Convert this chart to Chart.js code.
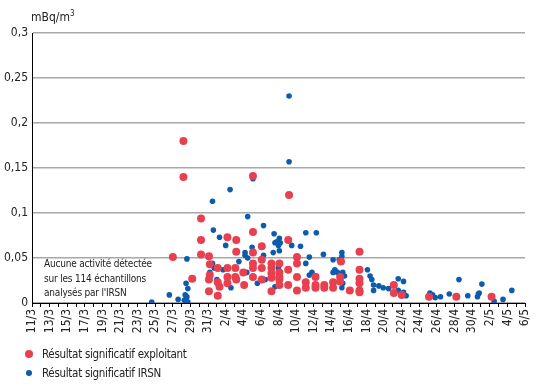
<!DOCTYPE html>
<html>
<head>
<meta charset="utf-8">
<script src="https://cdn.jsdelivr.net/npm/chart.js@4"></script>
<style>
body{margin:0;background:#fff;font-family:'Liberation Sans Narrow','DejaVu Sans Condensed',sans-serif;color:#222}
#wrap{position:relative;width:547px;height:388px}
#unit{position:absolute;left:31px;top:9px;font-size:12px}
#unit sup{font-size:8px}
#note{position:absolute;left:44px;top:257px;font-size:10px;letter-spacing:-0.2px;line-height:14.5px;color:#222}
.leg{position:absolute;left:19px;font-size:11.5px;letter-spacing:-0.3px;display:flex;align-items:center}
.dot{display:inline-block;border-radius:50%;margin-right:9px}
</style>
</head>
<body>
<div id="wrap">
<canvas id="myChart" width="547" height="388"></canvas>
<div id="unit">mBq/m<sup>3</sup></div>
<div id="note">Aucune activité détectée<br>sur les 114 échantillons<br>analysés par l'IRSN</div>
<div class="leg" style="top:347px"><span class="dot" style="width:8px;height:8px;background:#e8404f;margin-left:6px"></span>Résultat significatif exploitant</div>
<div class="leg" style="top:366px"><span class="dot" style="width:6px;height:6px;background:#0b5cad;margin-left:7px;margin-right:10px"></span>Résultat significatif IRSN</div>
</div>
<script>
const ctx = document.getElementById('myChart')

// x = jours depuis le 11/3, y = mBq/m3
const dateLabels = ['11/3','13/3','15/3','17/3','19/3','21/3','23/3','25/3','27/3','29/3','31/3','2/4','4/4','6/4','8/4','10/4','12/4','14/4','16/4','18/4','20/4','22/4','24/4','26/4','28/4','30/4','2/5','4/5','6/5']

const exploitant = [
  [16.0,0.051],[17.2,0.180],[17.2,0.140],[18.2,0.027],[19.2,0.094],[19.2,0.070],[19.2,0.054],
  [20.1,0.052],[20.2,0.043],[20.2,0.031],[20.1,0.026],[20.1,0.013],
  [21.1,0.039],[21.1,0.023],[21.3,0.018],[21.1,0.008],
  [22.2,0.073],[22.2,0.039],[22.2,0.029],[22.2,0.022],
  [23.2,0.070],[23.2,0.057],[23.1,0.039],[23.1,0.029],[23.2,0.026],[24.0,0.034],[24.1,0.020],
  [25.1,0.141],[25.1,0.079],[25.1,0.056],[25.1,0.044],[25.1,0.039],[25.1,0.029],
  [26.1,0.063],[26.1,0.048],[26.1,0.039],[26.1,0.026],
  [27.2,0.044],[27.2,0.039],[27.2,0.033],[27.2,0.028],[27.2,0.013],
  [28.1,0.044],[28.1,0.034],[28.1,0.029],[28.1,0.026],[28.1,0.020],
  [29.2,0.120],[29.1,0.070],[29.1,0.037],[29.1,0.020],
  [30.1,0.051],[30.1,0.044],[30.1,0.029],[30.1,0.014],
  [31.1,0.023],[31.1,0.017],[32.2,0.029],[32.2,0.020],[32.2,0.017],
  [33.2,0.020],[33.2,0.017],[34.2,0.023],[34.2,0.017],
  [35.1,0.046],[35.0,0.029],[35.0,0.024],[36.1,0.014],
  [37.2,0.057],[37.2,0.037],[37.2,0.027],[37.2,0.022],[37.2,0.014],[37.2,0.012],
  [41.1,0.020],[41.1,0.011],[42.0,0.009],[45.1,0.007],[48.2,0.007],[52.2,0.007]
]

const irsn = [
  [13.6,0.001],[15.6,0.009],[16.6,0.004],[17.3,0.003],[17.5,0.004],[17.6,0.007],[17.4,0.009],
  [17.7,0.001],[17.7,0.016],[17.5,0.022],[17.6,0.049],
  [20.5,0.113],[20.6,0.081],[21.3,0.073],[22.0,0.064],[20.5,0.044],[20.2,0.034],[20.7,0.039],
  [21.0,0.026],[21.7,0.037],[22.6,0.017],[23.5,0.046],[24.2,0.053],[24.5,0.096],[22.5,0.126],
  [25.1,0.138],[26.3,0.086],[27.5,0.077],[28.1,0.072],[27.8,0.068],[27.6,0.067],[28.0,0.064],
  [28.2,0.067],[28.1,0.058],[25.0,0.062],[24.2,0.056],[24.5,0.050],[26.3,0.053],[27.4,0.056],
  [29.5,0.064],[30.5,0.063],[31.1,0.078],[32.3,0.078],[31.5,0.051],[31.1,0.044],[31.8,0.034],
  [31.5,0.031],[32.3,0.030],[33.1,0.054],[34.2,0.034],[26.5,0.026],[25.6,0.022],[27.6,0.018],
  [28.0,0.039],[24.4,0.034],[29.2,0.230],[29.2,0.157],
  [35.2,0.056],[35.2,0.052],[34.9,0.048],[34.4,0.037],[34.7,0.034],[35.3,0.034],[35.5,0.030],
  [35.3,0.022],[35.2,0.017],[34.2,0.048],
  [38.1,0.037],[38.4,0.030],[38.6,0.026],[38.8,0.020],[38.8,0.014],[39.4,0.019],[39.9,0.017],
  [40.5,0.016],[41.6,0.027],[42.2,0.024],[41.6,0.014],[42.2,0.012],[42.5,0.008],[41.0,0.020],
  [45.2,0.011],[45.5,0.009],[45.8,0.006],[46.4,0.007],[47.4,0.010],[48.5,0.026],[49.5,0.008],
  [50.7,0.010],[50.6,0.007],[50.8,0.011],[51.1,0.021],[52.5,0.002],[53.5,0.004],[54.5,0.014]
]

const toXY = arr => arr.map(p => ({x: p[0], y: p[1]}))
const font = "'Liberation Sans Narrow','DejaVu Sans Condensed',sans-serif"

const myChart = new Chart(ctx, {
    type: 'scatter',
    data: {
        datasets: [{
            label: 'Résultat significatif exploitant',
            data: toXY(exploitant),
            backgroundColor: '#e8404f',
            borderWidth: 0,
            pointRadius: 4
        }, {
            label: 'Résultat significatif IRSN',
            data: toXY(irsn),
            backgroundColor: '#0b5cad',
            borderWidth: 0,
            pointRadius: 2.8
        }]
    },
    options: {
        responsive: false,
        animation: false,
        layout: { padding: { top: 33, right: 22, left: 0, bottom: 0 } },
        plugins: { legend: { display: false }, tooltip: { enabled: false } },
        scales: {
            x: {
                type: 'linear',
                min: 0,
                max: 56,
                afterFit: s => { s.height = 85 },
                ticks: {
                    stepSize: 1,
                    autoSkip: false,
                    minRotation: 90,
                    maxRotation: 90,
                    padding: 2,
                    color: '#222',
                    font: { family: font, size: 12 },
                    callback: v => v % 2 === 0 ? dateLabels[v / 2] : ''
                },
                grid: { drawOnChartArea: false, tickLength: 4, color: '#000' },
                border: { color: '#000' }
            },
            y: {
                min: 0,
                max: 0.3,
                afterFit: s => { s.width = 32 },
                ticks: {
                    stepSize: 0.05,
                    padding: 4,
                    color: '#222',
                    font: { family: font, size: 12 },
                    callback: v => String(Math.round(v * 100) / 100).replace('.', ',')
                },
                grid: { color: '#a8a8a8', lineWidth: 1.5, tickLength: 0 },
                border: { color: '#000' }
            }
        }
    }
})
</script>
</body>
</html>
